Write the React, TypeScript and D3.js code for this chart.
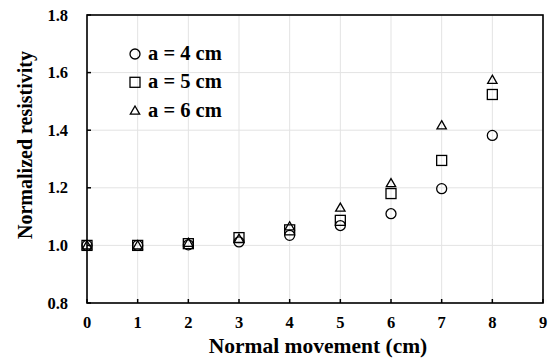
import React from "react";
import * as d3 from "d3";

const xValues = [0, 1, 2, 3, 4, 5, 6, 7, 8];
const seriesA4 = [1.0, 1.0, 1.002, 1.012, 1.035, 1.069, 1.11, 1.197, 1.382];
const seriesA5 = [1.0, 1.0, 1.006, 1.027, 1.054, 1.087, 1.18, 1.295, 1.524];
const seriesA6 = [1.0, 1.0, 1.009, 1.023, 1.066, 1.131, 1.216, 1.417, 1.575];
const seriesLabels = ["a = 4 cm", "a = 5 cm", "a = 6 cm"];
const xTicks = [0, 1, 2, 3, 4, 5, 6, 7, 8, 9];
const yTicks = [0.8, 1.0, 1.2, 1.4, 1.6, 1.8];

const W = 559;
const H = 359;
const left = 87;
const right = 543;
const top = 15;
const bottom = 303;
const font = "'Liberation Serif', 'Times New Roman', serif";

function Marker({ type, x, y }: { type: string; x: number; y: number }) {
  const s = { fill: "none", stroke: "#000", strokeWidth: 1.3 };
  if (type === "circle") return <circle cx={x} cy={y} r={5} {...s} />;
  if (type === "square") return <rect x={x - 5} y={y - 5} width={10} height={10} {...s} />;
  const sym = d3.symbol().type(d3.symbolTriangle).size(38)();
  return <path d={sym || ""} transform={`translate(${x},${y + 0.8})`} {...s} />;
}

export default function App() {
  const x = d3.scaleLinear().domain([0, 9]).range([left, right]);
  const y = d3.scaleLinear().domain([0.8, 1.8]).range([bottom, top]);
  const series = [
    { vals: seriesA4, type: "circle" },
    { vals: seriesA5, type: "square" },
    { vals: seriesA6, type: "triangle" },
  ];
  return (
    <svg width={W} height={H} style={{ position: "absolute", left: 0, top: 0, background: "#fff" }}>
      <rect width={W} height={H} fill="#fff" />
      {xTicks.map((t) => (
        <line key={"gx" + t} x1={x(t)} x2={x(t)} y1={top} y2={bottom} stroke="#e3e3e3" strokeWidth={1} />
      ))}
      {yTicks.map((t) => (
        <line key={"gy" + t} x1={left} x2={right} y1={y(t)} y2={y(t)} stroke="#e3e3e3" strokeWidth={1} />
      ))}
      {xTicks.map((t) => (
        <line key={"tx" + t} x1={x(t)} x2={x(t)} y1={bottom} y2={bottom - 4} stroke="#000" strokeWidth={1.5} />
      ))}
      {yTicks.map((t) => (
        <line key={"ty" + t} x1={left} x2={left + 4} y1={y(t)} y2={y(t)} stroke="#000" strokeWidth={1.5} />
      ))}
      <rect x={left} y={top} width={right - left} height={bottom - top} fill="none" stroke="#000" strokeWidth={1.6} />
      {xTicks.map((t) => (
        <text key={"lx" + t} x={x(t)} y={328} textAnchor="middle" fontFamily={font} fontWeight="bold" fontSize={16.5}>
          {t}
        </text>
      ))}
      {yTicks.map((t) => (
        <text key={"ly" + t} x={68} y={y(t) + 5.5} textAnchor="end" fontFamily={font} fontWeight="bold" fontSize={16.5}>
          {t.toFixed(1)}
        </text>
      ))}
      <text x={318} y={353} textAnchor="middle" fontFamily={font} fontWeight="bold" fontSize={21.5}>
        Normal movement (cm)
      </text>
      <text
        transform={`translate(32,145) rotate(-90)`}
        textAnchor="middle"
        fontFamily={font}
        fontWeight="bold"
        fontSize={20}
      >
        Normalized resistivity
      </text>
      {series.map((s, si) =>
        s.vals.map((v, i) => <Marker key={si + "-" + i} type={s.type} x={x(xValues[i])} y={y(v)} />)
      )}
      {series.map((s, si) => (
        <g key={"leg" + si}>
          <Marker type={s.type} x={135} y={54 + si * 28.3} />
          <text x={148} y={60 + si * 28.3} fontFamily={font} fontWeight="bold" fontSize={20.5}>
            {seriesLabels[si]}
          </text>
        </g>
      ))}
    </svg>
  );
}
